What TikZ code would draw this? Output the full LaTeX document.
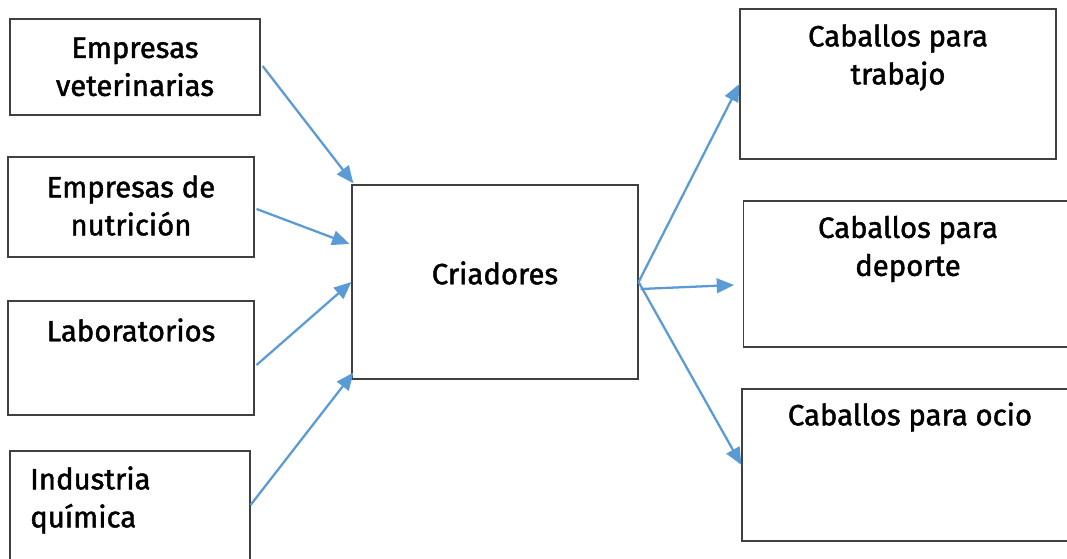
\documentclass[tikz,border=0pt]{standalone}
\usepackage{fontspec}
\setmainfont{Fira Sans}[FakeBold=1.5]
\usetikzlibrary{arrows.meta,calc}
\definecolor{arrowblue}{HTML}{5B9BD5}
\definecolor{boxgray}{HTML}{404040}
\tikzset{
  box/.style={draw=boxgray, line width=0.9pt, rectangle, inner sep=0pt},
  lbl/.style={font=\fontsize{22}{28.5}\selectfont, align=center, inner sep=0pt},
  lbll/.style={font=\fontsize{22}{28.5}\selectfont, align=left, inner sep=0pt},
  conn/.style={draw=arrowblue, line width=1.7pt, -{Triangle[length=13pt,width=11pt]}}
}
\begin{document}
\begin{tikzpicture}[x=0.75pt,y=-0.75pt]
\clip (0,0) rectangle (1067,559);
\fill[white] (0,0) rectangle (1067,559);
% left boxes
\node[box, minimum width=187.5pt, minimum height=72pt] (vet) at (135,67) {};
\node[lbl] (vett) at (135,67) {Empresas\\veterinarias};
\node[box, minimum width=184.5pt, minimum height=75pt] (nut) at (131,207) {};
\node[lbl] (nutt) at (131,205.5) {Empresas de\\nutrición};
\node[box, minimum width=184.5pt, minimum height=85.5pt] (lab) at (131,358) {};
\node[lbl] (labt) at (131,330) {Laboratorios};
\node[box, minimum width=180pt, minimum height=82.5pt] (ind) at (130,506) {};
\node[lbll, anchor=west] (indt) at (30,500) {Industria\\química};
% centre
\node[box, minimum width=214.5pt, minimum height=145.5pt] (cri) at (495,282) {};
\node[lbl] (crit) at (495,273) {Criadores};
% right boxes
\node[box, minimum width=237pt, minimum height=112.5pt] (tra) at (898,84) {};
\node[lbl] (trat) at (898,57.5) {Caballos para\\trabajo};
\node[box, minimum width=248pt, minimum height=109.5pt] (dep) at (909,274) {};
\node[lbl] (dept) at (908,249) {Caballos para\\deporte};
\node[box, minimum width=247.5pt, minimum height=114pt] (oci) at (907,465) {};
\node[lbl] (ocit) at (910,417) {Caballos para ocio};
% connectors
\draw[conn] ($(vet.east)+(2,-1)$) -- ($(cri.north west)+(2,-1)$);
\draw[conn] ($(nut.east)+(2,2)$) -- ($(cri.west)+(-2,-38)$);
\draw[conn] ($(lab.east)+(2,7)$) -- (cri.west);
\draw[conn] ($(ind.east)+(0,-1)$) -- ($(cri.south west)+(2,-7)$);
\draw[conn] (cri.east) -- (tra.west);
\draw[conn] ($(cri.east)+(2,7)$) -- ($(dep.west)+(-9,11)$);
\draw[conn] (cri.east) -- (oci.west);
\end{tikzpicture}
\end{document}
